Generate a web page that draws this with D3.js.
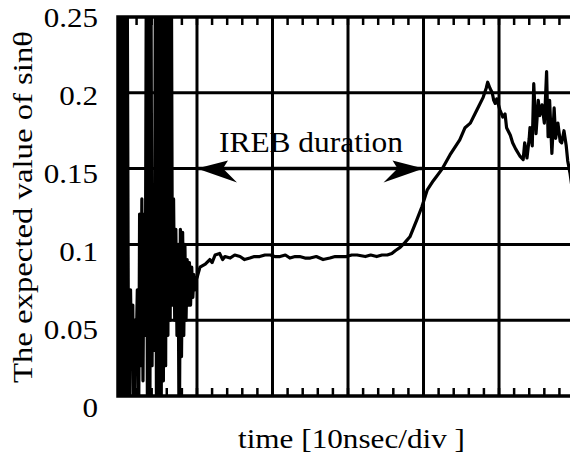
<!DOCTYPE html>
<html><head><meta charset="utf-8">
<script src="https://cdn.jsdelivr.net/npm/d3@7"></script>
<style>
body{margin:0;background:#fff}
svg{display:block}
text{font-family:"Liberation Serif","Times New Roman",Times,"DejaVu Serif",serif;fill:#000}
</style>
</head><body><svg id="c" width="570" height="466"></svg>
<script>
// time in ns (10 ns per division), expected value of sin(theta)
const timeNs = [
 -0.3,-0.15,0,0.15,0.3,0.45,0.6,0.75,0.9,1.05,1.2,1.35,1.5,1.65,1.8,1.95,2.1,2.25,2.4,2.55,
 2.7,2.85,3.0,3.15,3.3,3.45,3.6,3.75,3.9,4.05,4.2,4.35,4.5,4.65,4.8,4.95,5.1,5.25,5.4,5.55,
 5.7,5.85,6.0,6.15,6.3,6.45,6.6,6.75,6.9,7.05,7.2,7.35,7.5,7.65,7.8,7.95,8.1,8.25,8.4,8.55,
 8.7,8.85,9.0,9.15,9.3,9.45,9.6,9.75,9.9,
 10.0,10.4,11.1,11.7,12.0,12.4,13.0,13.4,13.7,14.4,15.0,15.7,16.3,17.0,17.6,18.3,19.0,19.7,
 20.3,21.0,21.7,22.3,23.0,23.6,24.3,25.0,25.8,26.7,27.6,28.3,28.9,29.8,30.5,31.2,32.3,33.0,
 33.8,34.5,35.2,35.8,36.3,36.9,37.5,38.2,39.1,39.8,40.5,41.3,42.5,43.5,44.8,45.5,46.2,47.1,
 47.9,48.3,48.5,48.8,49.1,49.3,49.5,49.7,50.1,50.5,50.8,51.0,51.5,51.8,52.2,52.8,53.2,53.4,
 53.7,54.0,54.1,54.4,54.6,54.9,55.2,55.4,55.7,56.0,56.1,56.3,56.5,56.7,57.0,57.3,57.5,57.8,
 58.1,58.3,58.6,58.9,59.1,59.4,59.6
];
const sinTheta = [
 0.30,-0.05,0.30,-0.05,0.06,0.30,-0.05,0.30,0.06,-0.05,0.07,0.02,0.06,-0.05,0.05,0.03,0.07,-0.05,0.12,0.02,
 0.13,0.01,0.12,0.04,0.30,-0.05,0.30,-0.05,0.30,0.02,0.13,0.03,0.30,-0.05,0.30,0.00,0.30,-0.05,0.30,0.01,
 0.30,0.02,0.30,0.04,0.30,0.05,0.30,0.06,0.13,0.05,0.11,0.04,0.10,-0.05,0.11,0.026,0.108,0.04,0.10,0.05,
 0.09,0.06,0.088,0.06,0.085,0.065,0.08,0.07,0.078,
 0.078,0.085,0.087,0.090,0.088,0.093,0.094,0.090,0.092,0.091,0.093,0.092,0.090,0.091,0.092,0.092,0.093,0.093,
 0.092,0.092,0.093,0.091,0.092,0.092,0.091,0.091,0.092,0.090,0.091,0.092,0.092,0.092,0.093,0.093,0.092,0.093,
 0.092,0.093,0.093,0.094,0.096,0.098,0.101,0.105,0.116,0.125,0.136,0.142,0.150,0.159,0.169,0.177,0.180,0.189,
 0.197,0.203,0.207,0.203,0.200,0.195,0.193,0.196,0.189,0.184,0.186,0.177,0.172,0.167,0.163,0.158,0.156,0.167,
 0.157,0.170,0.177,0.165,0.206,0.173,0.195,0.185,0.192,0.180,0.190,0.214,0.171,0.195,0.160,0.190,0.170,0.180,
 0.168,0.167,0.175,0.165,0.155,0.147,0.140
];
const yTicks = [0, 0.05, 0.1, 0.15, 0.2, 0.25];
const yTickLabels = ["0", "0.05", "0.1", "0.15", "0.2", "0.25"];
const xGridNs = [10, 20, 30, 40, 50];
const xMinorNs = [0,2,4,6,8,10,12,14,16,18,20,22,24,26,28,30,32,34,36,38,40,42,44,46,48,50,52,54,56,58];
const annotationText = "IREB duration";
const arrowFromNs = 10, arrowToNs = 40, arrowValue = 0.15;
const yTitle = "The expected value of sinθ";
const xTitle = "time [10nsec/div ]";

const svg = d3.select("#c");
const L = 118, R = 570, T = 17, B = 396;
const x = d3.scaleLinear().domain([-0.46, 59.4]).range([L, R]);
const y = d3.scaleLinear().domain([0, 0.25]).range([B, T]);

svg.append("defs").append("clipPath").attr("id","clip")
  .append("rect").attr("x",L).attr("y",T).attr("width",R-L).attr("height",B-T);

// gridlines
svg.append("g").selectAll("line").data(yTicks.filter(v=>v>0 && v<0.25)).join("line")
  .attr("x1",L).attr("x2",R).attr("y1",d=>y(d)).attr("y2",d=>y(d))
  .attr("stroke","#000").attr("stroke-width",3);
svg.append("g").selectAll("line").data(xGridNs).join("line")
  .attr("x1",d=>x(d)).attr("x2",d=>x(d)).attr("y1",T).attr("y2",B)
  .attr("stroke","#000").attr("stroke-width",3);

// minor ticks top & bottom (inward)
const mt = svg.append("g").attr("stroke","#000").attr("stroke-width",2.5);
mt.selectAll("line.b").data(xMinorNs).join("line").attr("class","b")
  .attr("x1",d=>x(d)).attr("x2",d=>x(d)).attr("y1",B).attr("y2",B-8);
mt.selectAll("line.t").data(xMinorNs).join("line").attr("class","t")
  .attr("x1",d=>x(d)).attr("x2",d=>x(d)).attr("y1",T).attr("y2",T+8);

// frame
svg.append("path").attr("d",`M${R+5},${T}H${L}V${B}H${R+5}`)
  .attr("fill","none").attr("stroke","#000").attr("stroke-width",3.5);

// curve
const pts = timeNs.map((t,i)=>[t, sinTheta[i]]);
svg.append("path").datum(pts)
  .attr("clip-path","url(#clip)")
  .attr("d", d3.line().x(d=>x(d[0])).y(d=>y(d[1])))
  .attr("fill","none").attr("stroke","#000").attr("stroke-width",3.2)
  .attr("stroke-linejoin","round");

// arrow
const ay = y(arrowValue), ax1 = x(arrowFromNs), ax2 = x(arrowToNs);
svg.append("line").attr("x1",ax1).attr("x2",ax2).attr("y1",ay).attr("y2",ay)
  .attr("stroke","#000").attr("stroke-width",3.5);
const head = "M0,0 L31,-8 L26,0 L40,14 Z";
svg.append("path").attr("d",head).attr("transform",`translate(${ax1},${ay})`).attr("fill","#000");
svg.append("path").attr("d",head).attr("transform",`translate(${ax2},${ay}) scale(-1,1)`).attr("fill","#000");

svg.append("text").attr("x",219).attr("y",152).attr("font-size",29)
  .attr("textLength",184).attr("lengthAdjust","spacingAndGlyphs").text(annotationText);

// y tick labels
svg.append("g").selectAll("text").data(yTicks).join("text")
  .attr("transform",(d)=>`translate(98,${y(d)+10+(0.25-d)/0.05*2.2}) scale(1.15,1)`)
  .attr("text-anchor","end").attr("font-size",27)
  .text((d,i)=>yTickLabels[i]);

// titles
svg.append("text").attr("transform","translate(32,207) rotate(-90)")
  .attr("text-anchor","middle").attr("font-size",27)
  .attr("textLength",352).attr("lengthAdjust","spacingAndGlyphs").text(yTitle);
svg.append("text").attr("x",238).attr("y",448).attr("font-size",28)
  .attr("textLength",227).attr("lengthAdjust","spacingAndGlyphs").text(xTitle);
</script></body></html>
